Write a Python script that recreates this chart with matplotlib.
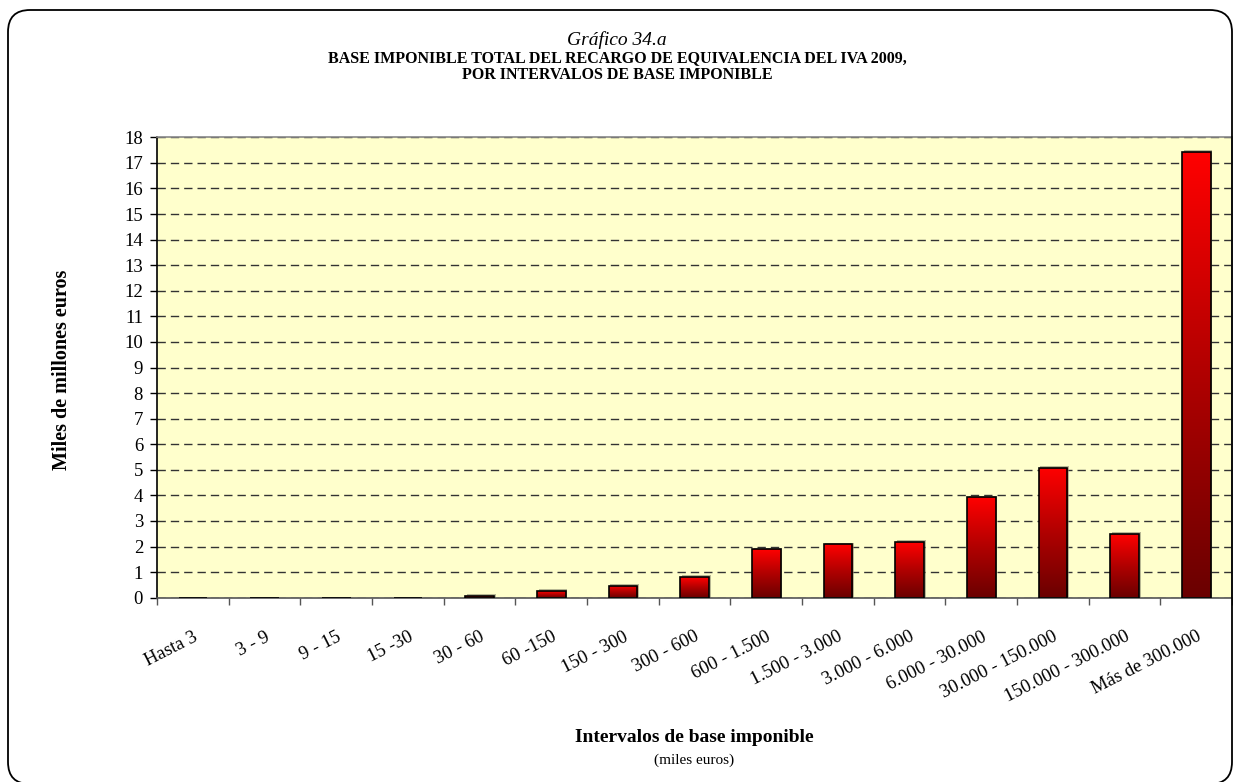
import numpy as np
import matplotlib.pyplot as plt
from matplotlib.colors import LinearSegmentedColormap
from matplotlib.patches import FancyBboxPatch
from matplotlib.transforms import IdentityTransform, ScaledTranslation

plt.rcParams['font.family'] = ['Liberation Serif', 'DejaVu Serif']

# Intervalos de base imponible (miles de euros)
intervalos = ['Hasta 3', '3 - 9', '9 - 15', '15 -30', '30 - 60', '60 -150',
              '150 - 300', '300 - 600', '600 - 1.500', '1.500 - 3.000',
              '3.000 - 6.000', '6.000 - 30.000', '30.000 - 150.000',
              '150.000 - 300.000', 'Más de 300.000']
# Base imponible total (miles de millones de euros)
base = [0.0, 0.0, 0.0, 0.0, 0.07, 0.27, 0.47, 0.82, 1.89, 2.09,
        2.18, 3.93, 5.09, 2.49, 17.43]
yticks = list(range(0, 19))

fig = plt.figure(figsize=(12.33, 7.82), dpi=100)

# marco redondeado exterior (en pixeles)
marco = FancyBboxPatch((8, -2), 1224, 774,
                       boxstyle='round,pad=0,rounding_size=22',
                       transform=IdentityTransform(), fill=False,
                       edgecolor='black', linewidth=1.3, clip_on=False)
fig.patches.append(marco)

ax = fig.add_axes([157 / 1233, 1 - 597.7 / 782, 1075 / 1233, 460.4 / 782])
ax.set_facecolor('#FFFFCC')

x = np.arange(len(intervalos))
bars = ax.bar(x, base, width=0.4, facecolor='none', edgecolor='black',
              linewidth=1.2, zorder=3)

# degradado rojo en cada barra
cmap = LinearSegmentedColormap.from_list('rojo', ['#6A0000', '#B00000', '#FF0000'])
grad = np.linspace(0, 1, 256).reshape(-1, 1)
for b in bars:
    h = b.get_height()
    if h <= 0:
        continue
    x0 = b.get_x()
    w = b.get_width()
    # sombra
    ax.add_patch(plt.Rectangle((x0 + 0.025, 0), w, h + 0.06, facecolor='#8a8a70',
                               edgecolor='none', alpha=0.6, zorder=1.5))
    im = ax.imshow(grad, extent=[x0, x0 + w, 0, h], origin='lower',
                   cmap=cmap, aspect='auto', zorder=2)
    im.set_clip_path(b)

ax.set_xlim(-0.5, len(intervalos) - 0.5)
ax.set_ylim(0, 18)
ax.set_yticks(yticks)
ax.grid(axis='y', color='#333333', linestyle=(0, (6, 3.6)), linewidth=1.0, zorder=1)
ax.set_axisbelow(True)

# marcas en los limites de cada intervalo, etiquetas en el centro
ax.set_xticks(np.arange(len(intervalos) + 1) - 0.5)
ax.set_xticklabels([])
ax.set_xticks(x, intervalos, minor=True, rotation=27, ha='right',
              rotation_mode='anchor', fontsize=13.5)
desplazar = ScaledTranslation(-8 / 100, 0, fig.dpi_scale_trans)
for lab in ax.get_xticklabels(minor=True):
    lab.set_transform(lab.get_transform() + desplazar)
ax.tick_params(axis='x', which='major', length=5, color='#555555', width=1)
ax.tick_params(axis='x', which='minor', length=0, pad=22)
ax.tick_params(axis='y', length=5, width=1, labelsize=13.5, pad=5)

for s in ['top', 'right']:
    ax.spines[s].set_color('#888888')
ax.spines['bottom'].set_color('#555555')
ax.spines['left'].set_color('black')
for s in ax.spines.values():
    s.set_linewidth(1.2)

fig.text(62 / 1233, 1 - 370 / 782, 'Miles de millones euros', rotation=90,
         ha='center', va='center', fontsize=14.5, fontweight='bold')
fig.text(694.5 / 1233, 1 - 737 / 782, 'Intervalos de base imponible', ha='center',
         va='center', fontsize=14, fontweight='bold')
fig.text(694.5 / 1233, 1 - 760 / 782, '(miles euros)', ha='center', va='center',
         fontsize=11)

fig.text(617 / 1233, 1 - 40 / 782, 'Gráfico 34.a', ha='center', va='center',
         fontsize=14, style='italic')
fig.text(617 / 1233, 1 - 58 / 782, 'BASE IMPONIBLE TOTAL DEL RECARGO DE EQUIVALENCIA DEL IVA 2009,',
         ha='center', va='center', fontsize=11.5, fontweight='bold')
fig.text(617 / 1233, 1 - 75 / 782, 'POR INTERVALOS DE BASE IMPONIBLE',
         ha='center', va='center', fontsize=11.5, fontweight='bold')

fig.savefig('out.png', dpi=100)
